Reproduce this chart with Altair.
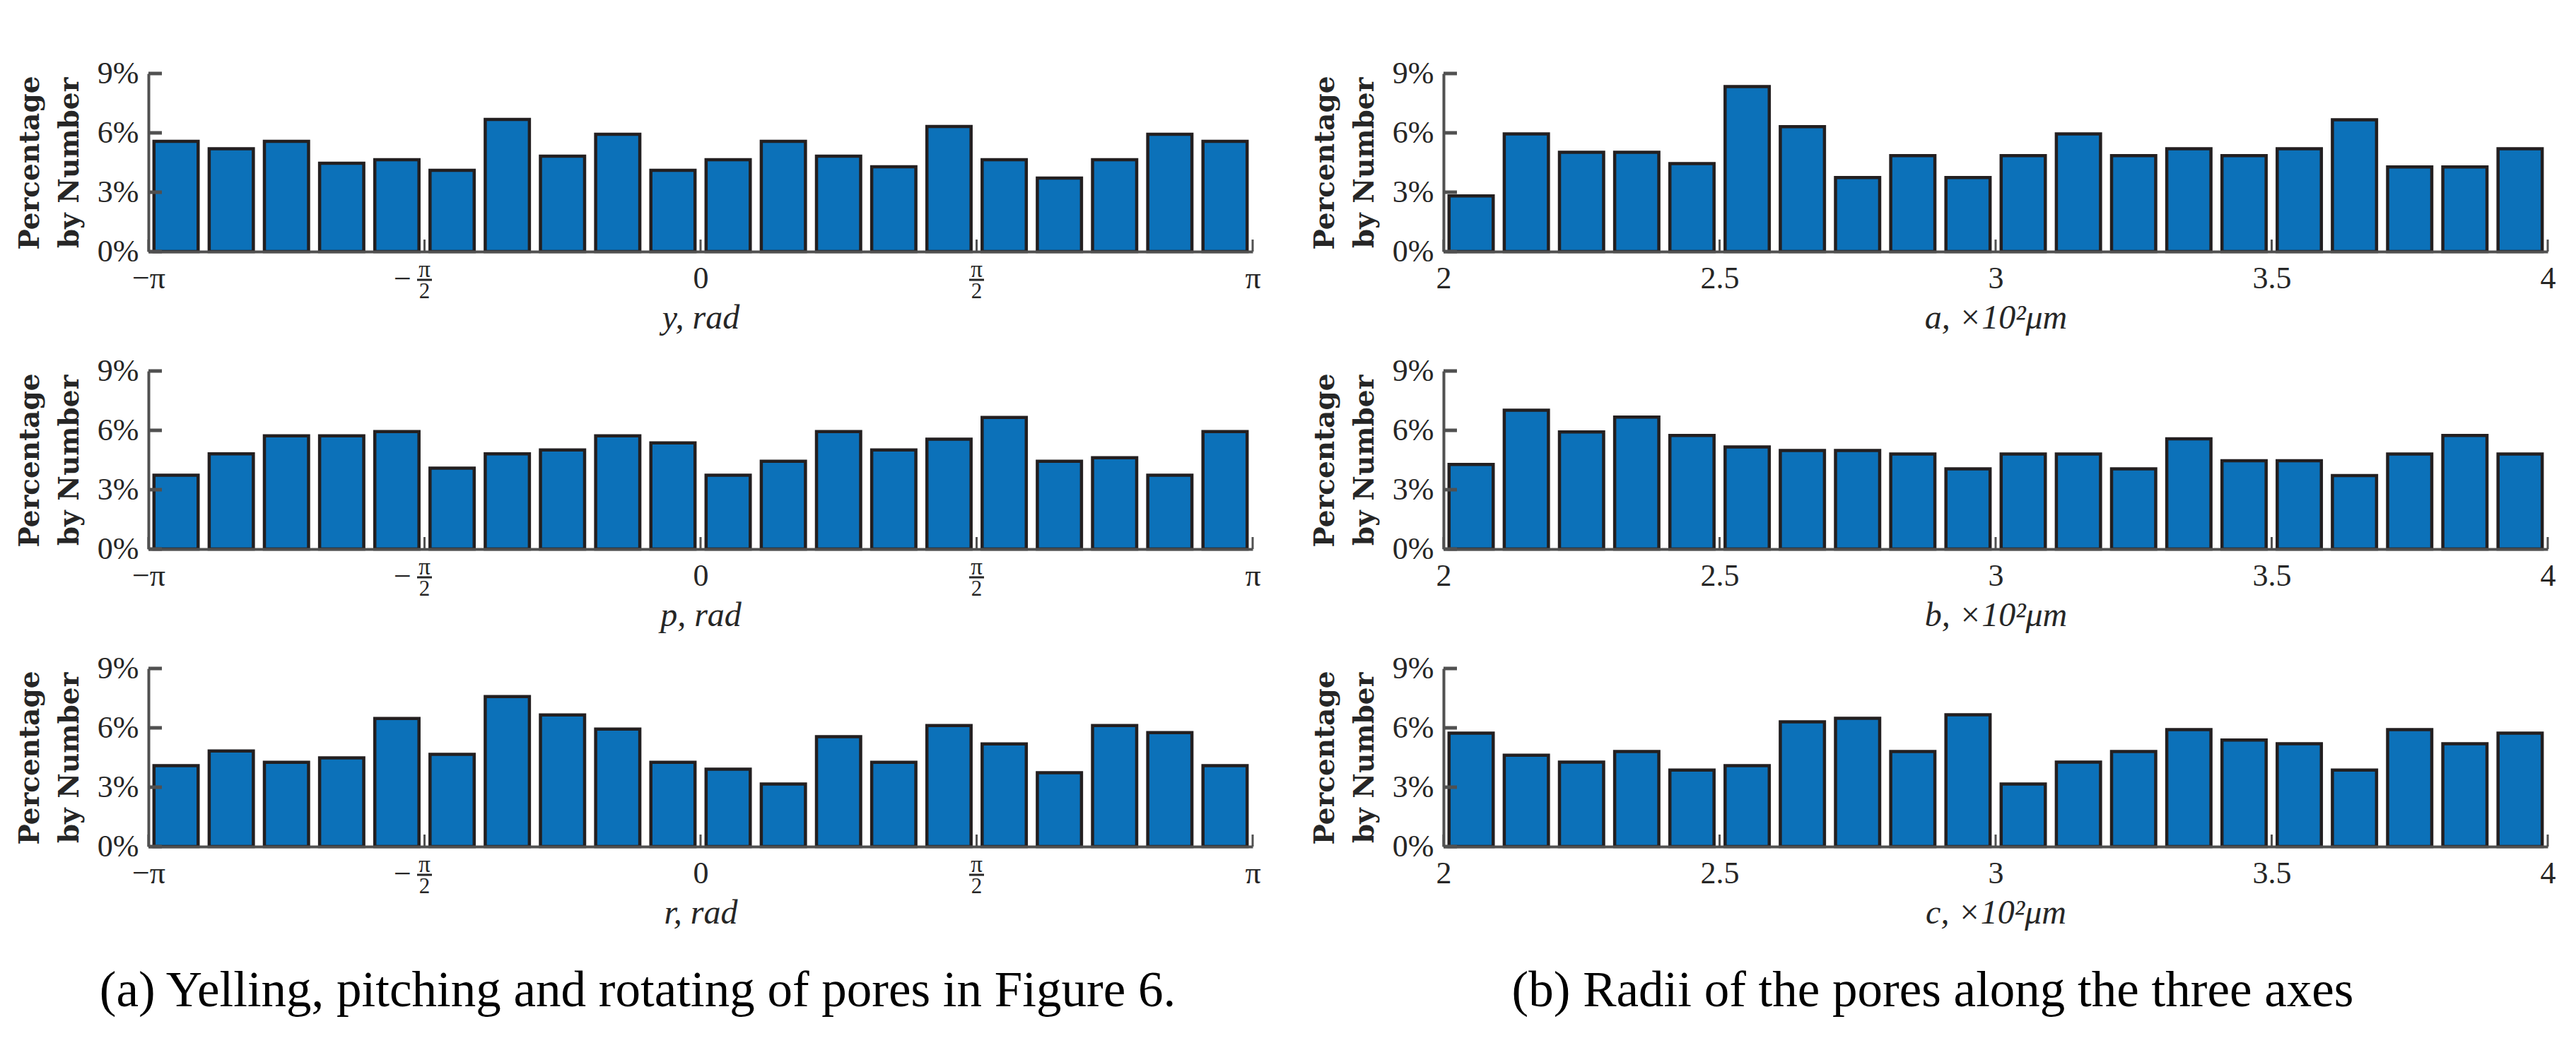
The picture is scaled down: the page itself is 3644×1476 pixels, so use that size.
import math
import altair as alt
import pandas as pd

PI = math.pi

# ---- data (percent by number, 20 bins each) ----
y_vals = [5.57, 5.20, 5.57, 4.46, 4.64, 4.11, 6.68, 4.82, 5.93, 4.11,
          4.64, 5.57, 4.82, 4.29, 6.32, 4.64, 3.71, 4.64, 5.93, 5.57]
p_vals = [3.73, 4.81, 5.72, 5.72, 5.94, 4.09, 4.81, 5.01, 5.72, 5.37,
          3.73, 4.44, 5.94, 5.01, 5.55, 6.65, 4.44, 4.62, 3.73, 5.94]
r_vals = [4.09, 4.83, 4.26, 4.48, 6.47, 4.66, 7.58, 6.65, 5.94, 4.26,
          3.91, 3.16, 5.55, 4.26, 6.12, 5.19, 3.73, 6.12, 5.76, 4.09]
a_vals = [2.81, 5.95, 5.02, 5.02, 4.45, 8.34, 6.31, 3.74, 4.85, 3.74,
          4.85, 5.95, 4.85, 5.20, 4.85, 5.20, 6.66, 4.28, 4.28, 5.20]
b_vals = [4.28, 7.02, 5.92, 6.67, 5.74, 5.16, 4.98, 4.98, 4.80, 4.05,
          4.80, 4.80, 4.05, 5.57, 4.46, 4.46, 3.71, 4.80, 5.74, 4.80]
c_vals = [5.73, 4.62, 4.27, 4.80, 3.87, 4.09, 6.30, 6.48, 4.80, 6.66,
          3.16, 4.27, 4.80, 5.91, 5.38, 5.20, 3.87, 5.91, 5.20, 5.73]

ang_range = [-PI, PI]
rad_range = [2.0, 4.0]
ang_ticks = [-PI, -PI / 2, 0.0, PI / 2, PI]
rad_ticks = [2.0, 2.5, 3.0, 3.5, 4.0]
frac_ticks = [-PI / 2, PI / 2]
frac_signs = ["−", ""]
y_ticks = [0, 3, 6, 9]

captions = ["(a)  Yelling, pitching and rotating of pores in Figure 6.",
            "(b)  Radii of the pores along the three axes"]

# ---- style ----
W, H = 1562, 252
BLUE = "#0C71B9"
EDGE = "#231F20"
AX = "#505050"
TXT = "#262626"
SERIF = "Liberation Serif"


def panel(vals, rng, ticks, xtitle, angular):
    lo, hi = rng
    n = len(vals)
    w = (hi - lo) / n
    df = pd.DataFrame({
        "x0": [lo + i * w + 0.1 * w for i in range(n)],
        "x1": [lo + (i + 1) * w - 0.1 * w for i in range(n)],
        "v": vals,
        "b": [0.0] * n,
    })
    xs = alt.Scale(domain=[lo, hi], nice=False, zero=False)
    ys = alt.Scale(domain=[0, 9], nice=False)
    if angular:
        lab = ("datum.value < -3 ? '−π' : (datum.value > 3 ? 'π' : "
               "(abs(datum.value) < 0.1 ? '0' : ''))")
    else:
        lab = "format(datum.value, '~g')"
    xaxis = alt.Axis(values=ticks, ticks=False, grid=False, domainColor=AX,
                     domainWidth=4, labelExpr=lab, labelFont=SERIF,
                     labelFontSize=44, labelColor=TXT, labelPadding=16,
                     labelFlush=False, labelOverlap=False, title=xtitle,
                     titleFont=SERIF, titleFontStyle="italic",
                     titleFontWeight="normal", titleFontSize=48,
                     titleColor=TXT, titleY=108, titleBaseline="alphabetic",
                     zindex=1)
    yaxis = alt.Axis(values=y_ticks, ticks=False, grid=False, domainColor=AX,
                     domainWidth=4, labelExpr="datum.value + '%'",
                     labelFont=SERIF, labelFontSize=44, labelColor=TXT,
                     labelPadding=14, title=["Percentage", "by Number"],
                     titleFont="DejaVu Serif", titleFontWeight="bold",
                     titleFontSize=39, titleLineHeight=56, titleColor=TXT,
                     titleAngle=270, titleX=-168, titleY=H / 2,
                     titleAlign="center", titleBaseline="middle", zindex=1)
    X = lambda f: alt.X(f, scale=xs, axis=xaxis)
    Y = lambda f: alt.Y(f, scale=ys, axis=yaxis)
    bars = alt.Chart(df).mark_bar(fill=BLUE, stroke=EDGE, strokeWidth=4.5).encode(
        x=X("x0:Q"), x2="x1:Q", y=Y("v:Q"), y2="b:Q",
    )
    yt = alt.Chart(pd.DataFrame({"t": y_ticks})).mark_rule(
        color=AX, strokeWidth=5).encode(
        y=Y("t:Q"), x=alt.value(0), x2=alt.value(19))
    xt = alt.Chart(pd.DataFrame({"t": ticks})).mark_rule(
        color=AX, strokeWidth=3).encode(
        x=X("t:Q"), y=alt.value(H), y2=alt.value(H - 17))
    layers = [bars, yt, xt]
    if angular:
        fdf = pd.DataFrame({"t": frac_ticks, "s": frac_signs})
        num = alt.Chart(fdf).mark_text(text="π", font=SERIF, fontSize=33,
                                       color=TXT, baseline="middle").encode(
            x=X("t:Q"), y=alt.value(H + 26))
        bar = alt.Chart(fdf).mark_tick(orient="horizontal", size=21,
                                       thickness=3, color=TXT, opacity=1).encode(
            x=X("t:Q"), y=alt.value(H + 40))
        den = alt.Chart(fdf).mark_text(text="2", font=SERIF, fontSize=31,
                                       color=TXT, baseline="middle").encode(
            x=X("t:Q"), y=alt.value(H + 57))
        sgn = alt.Chart(fdf).mark_text(font=SERIF, fontSize=44, color=TXT,
                                       baseline="middle", dx=-31).encode(
            x=X("t:Q"), y=alt.value(H + 40), text="s:N")
        layers += [num, bar, den, sgn]
    return alt.layer(*layers).properties(width=W, height=H)


def caption(txt):
    return alt.Chart(pd.DataFrame({"c": [txt]})).mark_text(
        font=SERIF, fontSize=71, color="#000000", baseline="middle",
        align="center").encode(
        text="c:N", x=alt.value(W / 2 - 89), y=alt.value(36)
    ).properties(width=W, height=72)


chart = alt.concat(
    panel(y_vals, ang_range, ang_ticks, "y, rad", True),
    panel(a_vals, rad_range, rad_ticks, "a, ×10²μm", False),
    panel(p_vals, ang_range, ang_ticks, "p, rad", True),
    panel(b_vals, rad_range, rad_ticks, "b, ×10²μm", False),
    panel(r_vals, ang_range, ang_ticks, "r, rad", True),
    panel(c_vals, rad_range, rad_ticks, "c, ×10²μm", False),
    caption(captions[0]),
    caption(captions[1]),
    columns=2,
    spacing={"column": 270, "row": 169},
    bounds="flush",
).properties(
    padding={"left": 14, "top": 73, "right": 10, "bottom": 10},
    background="white",
).configure_view(stroke="transparent")

chart.save("out.html", embed_options={"renderer": "svg", "actions": False})
